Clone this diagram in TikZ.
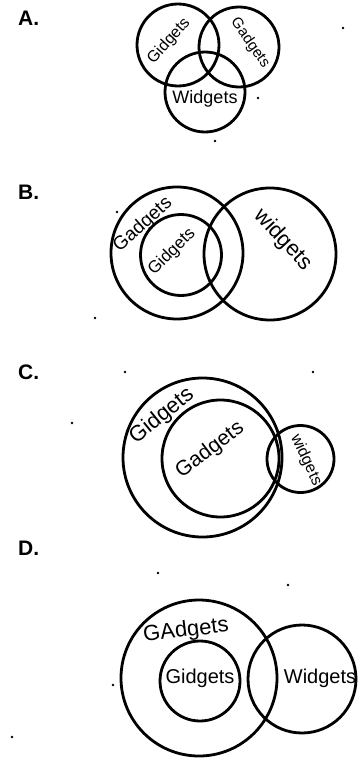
\documentclass[tikz,border=0pt]{standalone}
\usepackage{fontspec}
\setmainfont{Liberation Sans}
\begin{document}
\begin{tikzpicture}[x=1pt,y=-1pt,
  ring/.style={draw,line width=2.8pt},
  hand/.style={inner sep=0pt,font=\fontsize{#1}{#1}\selectfont},
  panel/.style={anchor=west,inner sep=0pt,font=\bfseries\fontsize{21}{21}\selectfont},
  speck/.style={fill=black}]
\useasboundingbox (0,0) rectangle (359,760);
% ---------- A ----------
\node[panel] (la) at (18,18) {A.};
\coordinate (a1) at (178,45);
\coordinate (a2) at (239,47);
\coordinate (a3) at (205,92);
\draw[ring] (a1) circle[radius=41pt];
\draw[ring] (a2) circle[radius=40pt];
\draw[ring] (a3) circle[radius=40pt];
\node[hand=16,rotate=48] (ta1) at (169,41) {Gidgets};
\node[hand=15,rotate=-55] (ta2) at (250,43) {Gadgets};
\node[hand=18] (ta3) at (205,99) {Widgets};
% ---------- B ----------
\node[panel] (lb) at (18,192) {B.};
\coordinate (b1) at (177,253);
\coordinate (b2) at (181,255);
\coordinate (b3) at (270,254);
\draw[ring] (b1) circle[radius=66pt];
\draw[ring] (b2) circle[radius=40.5pt];
\draw[ring] (b3) circle[radius=66pt];
\node[hand=19,rotate=42] (tb1) at (143,225) {Gadgets};
\node[hand=17,rotate=45] (tb2) at (172,252) {Gidgets};
\node[hand=22,rotate=-47] (tb3) at (283,240) {widgets};
% ---------- C ----------
\node[panel] (lc) at (18,372) {C.};
\coordinate (c1) at (202.5,457.5);
\coordinate (c2) at (220.5,458.5);
\coordinate (c3) at (300.5,459);
\draw[ring] (c1) circle[radius=79.5pt];
\draw[ring] (c2) circle[radius=58.5pt];
\draw[ring] (c3) circle[radius=33.5pt];
\node[hand=22,rotate=39] (tc1) at (162,416) {Gidgets};
\node[hand=21,rotate=37] (tc2) at (210,450) {Gadgets};
\node[hand=16,rotate=-65] (tc3) at (306,460) {widgets};
% ---------- D ----------
\node[panel] (ld) at (18,548) {D.};
\coordinate (d1) at (199,678);
\coordinate (d2) at (200,681);
\coordinate (d3) at (302,679);
\draw[ring] (d1) circle[radius=78pt];
\draw[ring] (d2) circle[radius=40pt];
\draw[ring] (d3) circle[radius=54pt];
\node[hand=22,rotate=7] (td1) at (186,631) {GAdgets};
\node[hand=20] (td2) at (200,678) {Gidgets};
\node[hand=20] (td3) at (320,678) {Widgets};
% ---------- specks ----------
\foreach \p in {(258,98),(215,141),(343,28),(117,212),(95,318),(125,372),
  (313,372),(72,423),(113,685),(12,737),(288,585),(158,573)}
  \fill[speck] \p circle[radius=1.4pt];
\end{tikzpicture}
\end{document}
